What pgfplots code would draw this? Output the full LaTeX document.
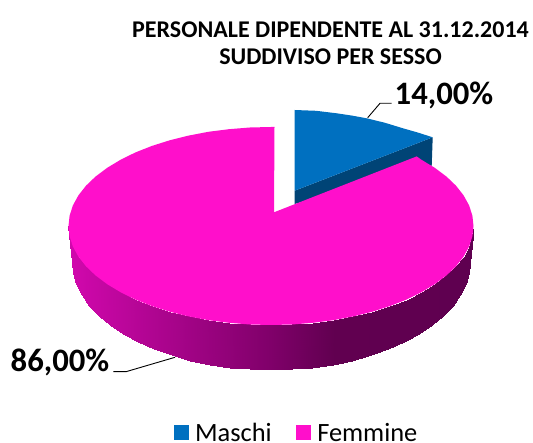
\documentclass[border=0pt]{standalone}
\usepackage{pgfplots}
\pgfplotsset{compat=1.18}
\usepackage{fontspec}
\setmainfont{Carlito}
\definecolor{maschi}{RGB}{0,112,192}
\definecolor{maschid}{RGB}{0,68,118}
\definecolor{femmine}{RGB}{255,15,203}
\begin{document}
\begin{tikzpicture}
\path[use as bounding box] (0,0) rectangle (533pt,443pt);
\begin{axis}[
  at={(0,0)}, anchor=south west,
  scale only axis, width=533pt, height=443pt,
  xmin=0, xmax=533, ymin=0, ymax=443, y dir=reverse,
  hide axis, clip=false,
  colormap={side}{rgb255(0)=(208,8,172) rgb255(198)=(128,0,106) rgb255(262)=(97,0,80) rgb255(402)=(95,0,80)},
  point meta min=72, point meta max=474,
  legend style={at={(axis cs:296.5,433)}, anchor=center, draw=none, fill=none,
    legend columns=2, font=\fontsize{26.4}{26.4}\selectfont, inner sep=0pt,
    /tikz/every even column/.append style={column sep=22pt},
    /tikz/every odd column/.append style={column sep=4.5pt}},
  legend cell align=left,
  legend image code/.code={\fill[#1] (0pt,-7.5pt) rectangle (15pt,7.5pt);},
]
% side of the large slice
\addplot[surf, shader=interp, mesh/rows=2, point meta=x, forget plot] table {
x y
68.5 226
69.6 236.3
72.9 246.6
78.4 256.6
86 266.3
95.6 275.5
107.2 284.2
120.5 292.2
135.5 299.6
152 306.1
169.7 311.7
188.6 316.4
208.4 320.2
228.9 322.8
249.8 324.5
271 325
292.2 324.5
313.1 322.8
333.6 320.2
353.4 316.4
372.3 311.7
390 306.1
406.5 299.6
421.5 292.2
434.8 284.2
446.4 275.5
456 266.3
463.6 256.6
469.1 246.6
472.4 236.3
473.5 226
72 262
73.1 273.3
76.4 284.5
81.7 295.4
89.2 305.9
98.7 316
110 325.5
123.1 334.3
137.8 342.3
154 349.4
171.5 355.5
190.1 360.7
209.5 364.7
229.6 367.6
250.2 369.4
271 370
291.8 369.4
312.4 367.6
332.5 364.7
351.9 360.7
370.5 355.5
388 349.4
404.2 342.3
418.9 334.3
432 325.5
443.3 316
452.8 305.9
460.3 295.4
465.6 284.5
468.9 273.3
470 262
};
% side of the small slice
\addplot[fill=maschid, draw=none, forget plot] coordinates {
(294.7,190.7) (432.7,137.3) (431.7,166) (294.7,204)
} -- cycle;
% top of the small slice
\addplot[fill=maschi, draw=none] coordinates {
(294.7,190.7) (294.7,110) (316,110.8) (336.7,113.3) (352,115.6) (366.7,118.3) (385,122.8) (403,128.3) (418,132.6) (432.7,137.3)
} -- cycle;
\addlegendentry{Maschi}
% top of the large slice
\addplot[fill=femmine, draw=none] coordinates {
(274,212.3) (274.5,127) (271,127) (249.8,127.5) (228.9,129.2) (208.4,131.8) (188.6,135.6) (169.7,140.3) (152,145.9)
(135.5,152.4) (120.5,159.8) (107.2,167.8) (95.6,176.5) (86,185.7) (78.4,195.4) (72.9,205.4) (69.6,215.7) (68.5,226)
(69.6,236.3) (72.9,246.6) (78.4,256.6) (86,266.3) (95.6,275.5) (107.2,284.2) (120.5,292.2) (135.5,299.6) (152,306.1)
(169.7,311.7) (188.6,316.4) (208.4,320.2) (228.9,322.8) (249.8,324.5) (271,325) (292.2,324.5) (313.1,322.8) (333.6,320.2)
(353.4,316.4) (372.3,311.7) (390,306.1) (406.5,299.6) (421.5,292.2) (434.8,284.2) (446.4,275.5) (456,266.3) (463.6,256.6)
(469.1,246.6) (472.4,236.3) (473.5,226) (472.4,215.7) (469.1,205.4) (463.6,195.4) (456,185.7) (446.4,176.5) (434.8,167.8)
(421.5,159.8) (416.7,156.4)
} -- cycle;
\addlegendentry{Femmine}
% leader lines
\addplot[black, line width=0.9pt, forget plot] coordinates {(367.7,117.7) (380,103.3) (391.7,103.3)};
\addplot[black, line width=0.9pt, forget plot] coordinates {(113.3,371.7) (126,371.7) (175,357.3)};
\node[font=\fontsize{24}{27}\selectfont\bfseries, align=center, anchor=center, inner sep=0pt] at (axis cs:330.5,43.5)
  {PERSONALE DIPENDENTE AL 31.12.2014\\SUDDIVISO PER SESSO};
\node[font=\fontsize{32.7}{33}\selectfont\bfseries, anchor=center, inner sep=0pt] at (axis cs:444,95) {14,00\%};
\node[font=\fontsize{32.7}{33}\selectfont\bfseries, anchor=center, inner sep=0pt] at (axis cs:60,362) {86,00\%};
\end{axis}
\end{tikzpicture}
\end{document}
